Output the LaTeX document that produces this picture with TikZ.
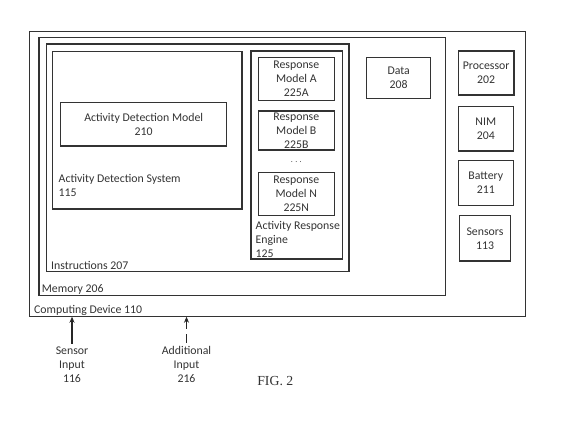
\documentclass[tikz,border=0pt]{standalone}
\usepackage{fontspec}
\usetikzlibrary{arrows.meta}
\setmainfont{Carlito}
\newfontfamily\figfont{Liberation Serif}
\begin{document}
\begin{tikzpicture}[x=1pt,y=-1pt,
  box/.style={draw=black!80, line width=1.3pt, inner sep=0pt, outer sep=0pt, rectangle},
  lbl/.style={text=black!80, font=\fontsize{11.8}{14}\selectfont, inner sep=0pt, align=center},
  llbl/.style={text=black!80, font=\fontsize{11.8}{14}\selectfont, inner sep=0pt, align=left, anchor=west},
  arr/.style={draw=black!85, line width=1.2pt, -{Stealth[length=6pt,width=5pt]}}]
\useasboundingbox (0,0) rectangle (570,421);
% containers
\node[box, anchor=north west, minimum width=496.2pt, minimum height=285pt] (cd) at (29.5,31.7) {};
\node[box, anchor=north west, minimum width=406.7pt, minimum height=258pt] (mem) at (39,37.5) {};
\node[box, anchor=north west, minimum width=302.3pt, minimum height=227.7pt] (ins) at (46.7,44) {};
\node[box, anchor=north west, minimum width=189.7pt, minimum height=157.3pt] (ads) at (52.3,51.7) {};
\node[box, anchor=north west, minimum width=91.7pt, minimum height=208pt] (are) at (251,51) {};
% container labels
\node[llbl] (cdl) at (34,310) {Computing Device 110};
\node[llbl] (meml) at (41.7,289) {Memory 206};
\node[llbl] (insl) at (51,265.7) {Instructions 207};
\node[llbl] (adsl) at (58.5,185.8) {Activity Detection System\\115};
\node[llbl] (arel) at (255.5,239.7) {Activity Response\\Engine\\125};
% inner boxes
\node[box, lbl, minimum width=166pt, minimum height=43.3pt] (adm) at (143.7,124.3) {Activity Detection Model\\210};
\node[box, lbl, minimum width=76pt, minimum height=43.4pt] (rma) at (296.3,79) {Response\\Model A\\225A};
\node[box, lbl, minimum width=76pt, minimum height=39pt] (rmb) at (296.3,130.5) {Response\\Model B\\225B};
\node[lbl, font=\fontsize{8}{9}\selectfont] (dots) at (296.3,162) {. . .};
\node[box, lbl, minimum width=76pt, minimum height=43pt] (rmn) at (296.3,194.2) {Response\\Model N\\225N};
\node[box, lbl, minimum width=64pt, minimum height=40.6pt] (data) at (398.7,78) {Data\\208};
\node[box, lbl, minimum width=55.7pt, minimum height=44pt] (proc) at (486.2,73) {Processor\\202};
\node[box, lbl, minimum width=55pt, minimum height=44.3pt] (nim) at (485.8,128.8) {NIM\\204};
\node[box, lbl, minimum width=55pt, minimum height=45pt] (bat) at (485.8,183.2) {Battery\\211};
\node[box, lbl, minimum width=51.4pt, minimum height=45.3pt] (sens) at (485,238.3) {Sensors\\113};
% inputs
\node[lbl, anchor=north] (si) at (72,346.5) {Sensor\\Input\\116};
\node[lbl, anchor=north] (ai) at (186.5,346.5) {Additional\\Input\\216};
\draw[arr, shorten <=3pt] (si.north) -- (si.north |- cd.south);
\draw[arr, shorten <=4pt, dash pattern=on 9pt off 5pt on 30pt] (ai.north) -- (ai.north |- cd.south);
\node[text=black!80, font=\figfont\fontsize{13.8}{16}\selectfont, inner sep=0pt] (fig) at (275.3,381) {FIG. 2};
\end{tikzpicture}
\end{document}
